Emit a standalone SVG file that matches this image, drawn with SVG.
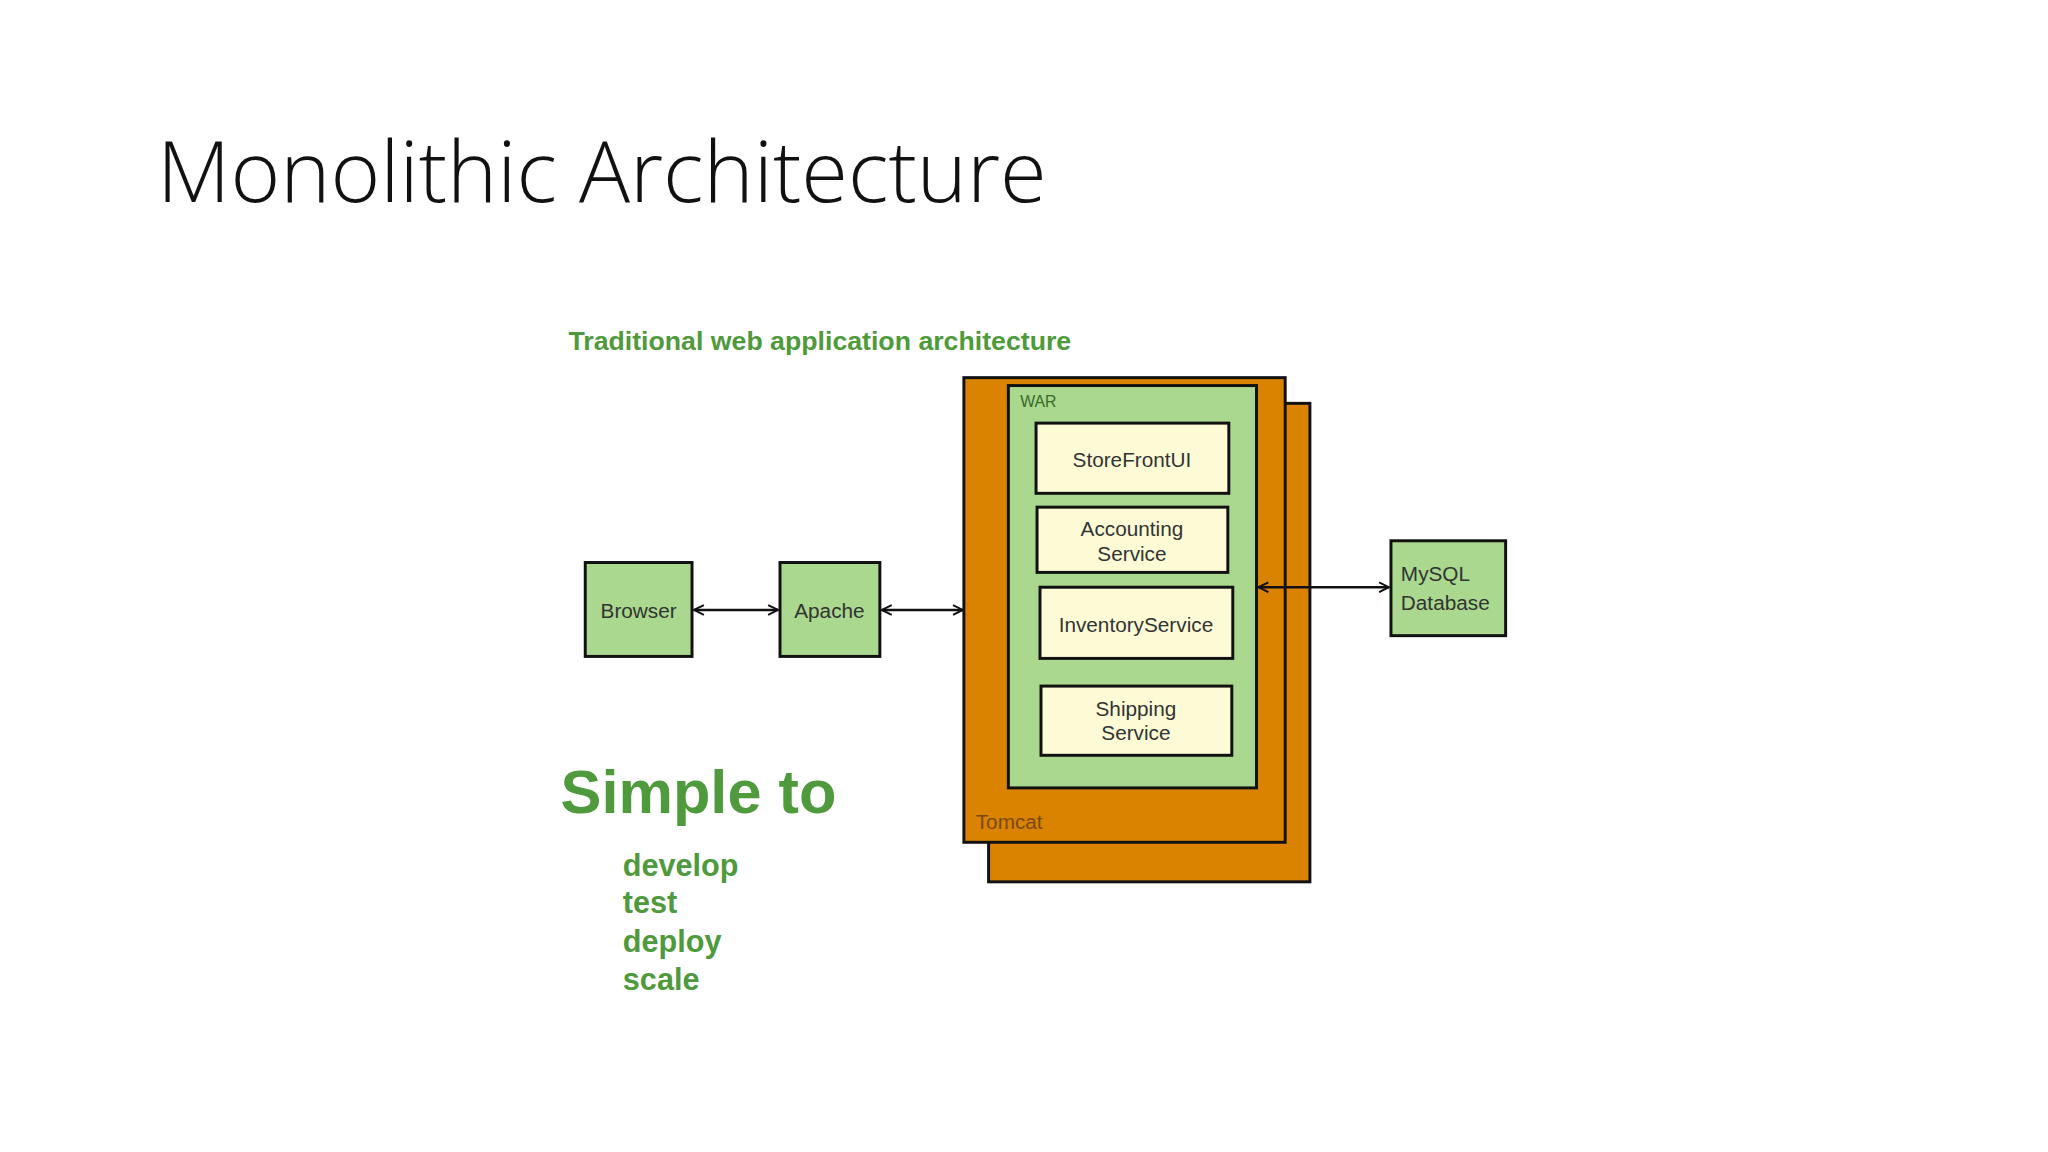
<svg xmlns="http://www.w3.org/2000/svg" width="2048" height="1152" viewBox="0 0 2048 1152">
<defs>
<style>
.box{stroke:#111;stroke-width:3}
.g{fill:#a9d88e}
.y{fill:#fdfbd6}
.o{fill:#d98300}
.t{font-family:"Liberation Sans",Arial,sans-serif;fill:#333;font-size:21px;text-anchor:middle}
.s{text-anchor:start}
.gr{font-family:"Liberation Sans",Arial,sans-serif;font-weight:bold;fill:#4f9a3c}
.ln{stroke:#111;stroke-width:2.5;fill:none}
</style>
<marker id="a" viewBox="0 0 12 12" refX="11" refY="6" markerWidth="12" markerHeight="12" markerUnits="userSpaceOnUse" orient="auto-start-reverse"><path d="M1,1 L11,6 L1,11" fill="none" stroke="#111" stroke-width="2"/></marker>
</defs>
<rect width="2048" height="1152" fill="#fff"/>
<text x="157" y="202" font-family="'Open Sans','Noto Sans',sans-serif" font-weight="300" font-size="85" fill="#111">Monolithic Architecture</text>
<g transform="scale(0.9886)">
<text class="gr" x="575" y="354" font-size="27">Traditional web application architecture</text>
<g id="tomcat">
<rect class="box o" x="1000" y="408" width="325" height="484"/>
<rect class="box o" x="975" y="382" width="325" height="470"/>
<text x="987" y="839" font-family="'Liberation Sans',Arial,sans-serif" font-size="21" fill="#7a4a10">Tomcat</text>
</g>
<g id="war">
<rect class="box g" x="1020" y="390" width="251" height="407"/>
<text x="1032" y="412" font-family="'Liberation Sans',Arial,sans-serif" font-size="16" fill="#3a6a2a">WAR</text>
</g>
<g id="storefront"><rect class="box y" x="1048" y="428" width="195" height="71"/><text class="t" x="1145" y="472">StoreFrontUI</text></g>
<g id="accounting"><rect class="box y" x="1049" y="513" width="193" height="66"/><text class="t" x="1145" y="542">Accounting</text><text class="t" x="1145" y="567">Service</text></g>
<g id="inventory"><rect class="box y" x="1052" y="594" width="195" height="72"/><text class="t" x="1149" y="639">InventoryService</text></g>
<g id="shipping"><rect class="box y" x="1053" y="694" width="193" height="70"/><text class="t" x="1149" y="724">Shipping</text><text class="t" x="1149" y="749">Service</text></g>
<g id="browser"><rect class="box g" x="592" y="569" width="108" height="95"/><text class="t" x="646" y="625">Browser</text></g>
<g id="apache"><rect class="box g" x="789" y="569" width="101" height="95"/><text class="t" x="839" y="625">Apache</text></g>
<g id="mysql"><rect class="box g" x="1407" y="547" width="116" height="96"/><text class="t s" x="1417" y="588">MySQL</text><text class="t s" x="1417" y="617">Database</text></g>
<g id="connectors">
<line class="ln" x1="702" y1="617" x2="787" y2="617" marker-start="url(#a)" marker-end="url(#a)"/>
<line class="ln" x1="892" y1="617" x2="974" y2="617" marker-start="url(#a)" marker-end="url(#a)"/>
<line class="ln" x1="1273" y1="594" x2="1405" y2="594" marker-start="url(#a)" marker-end="url(#a)"/>
</g>
<text class="gr" x="567" y="822" font-size="62">Simple to</text>
<g class="gr" font-size="31">
<text x="630" y="886">develop</text>
<text x="630" y="924">test</text>
<text x="630" y="963">deploy</text>
<text x="630" y="1001">scale</text>
</g>
</g>
</svg>
